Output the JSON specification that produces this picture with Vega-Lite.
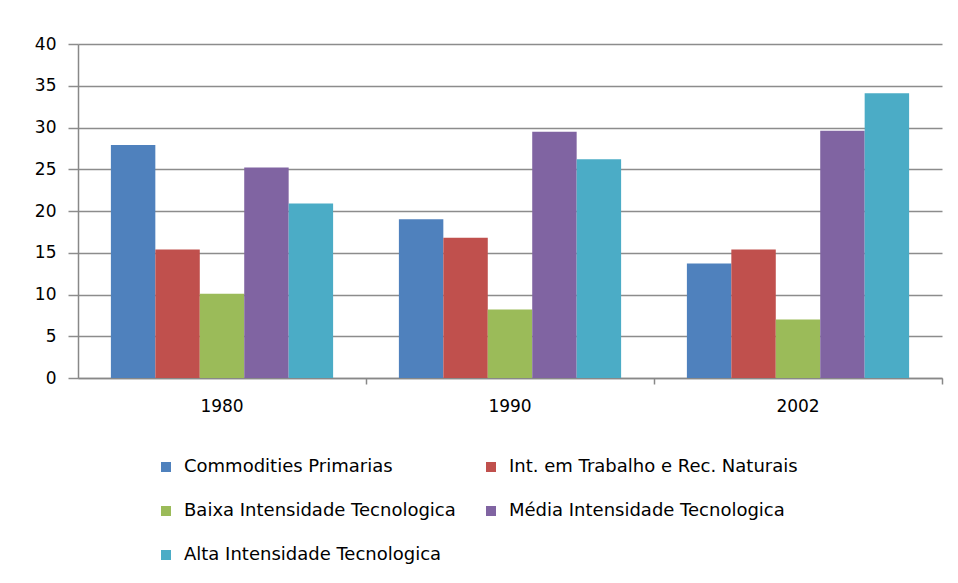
{
  "$schema": "https://vega.github.io/schema/vega-lite/v6.json",
  "autosize": {"type": "none"},
  "width": 864,
  "height": 334,
  "padding": {"left": 78, "top": 44, "right": 16, "bottom": 205},
  "background": "white",
  "config": {"view": {"stroke": null}, "font": "DejaVu Sans"},
  "data": {"values": [
    {"ano": "1980", "serie": "Commodities Primarias", "valor": 27.9},
    {"ano": "1980", "serie": "Int. em Trabalho e Rec. Naturais", "valor": 15.4},
    {"ano": "1980", "serie": "Baixa Intensidade Tecnologica", "valor": 10.1},
    {"ano": "1980", "serie": "Média Intensidade Tecnologica", "valor": 25.2},
    {"ano": "1980", "serie": "Alta Intensidade Tecnologica", "valor": 20.9},
    {"ano": "1990", "serie": "Commodities Primarias", "valor": 19.0},
    {"ano": "1990", "serie": "Int. em Trabalho e Rec. Naturais", "valor": 16.8},
    {"ano": "1990", "serie": "Baixa Intensidade Tecnologica", "valor": 8.2},
    {"ano": "1990", "serie": "Média Intensidade Tecnologica", "valor": 29.5},
    {"ano": "1990", "serie": "Alta Intensidade Tecnologica", "valor": 26.2},
    {"ano": "2002", "serie": "Commodities Primarias", "valor": 13.7},
    {"ano": "2002", "serie": "Int. em Trabalho e Rec. Naturais", "valor": 15.4},
    {"ano": "2002", "serie": "Baixa Intensidade Tecnologica", "valor": 7.0},
    {"ano": "2002", "serie": "Média Intensidade Tecnologica", "valor": 29.6},
    {"ano": "2002", "serie": "Alta Intensidade Tecnologica", "valor": 34.1}
  ]},
  "mark": {"type": "bar"},
  "encoding": {
    "x": {
      "field": "ano", "type": "nominal",
      "scale": {"paddingInner": 0, "paddingOuter": 0},
      "axis": {"title": null, "labelAngle": 0, "labelFontSize": 17, "labelColor": "#000", "labelPadding": 14,
               "domainColor": "#888", "domainWidth": 1.5, "tickColor": "#888", "tickWidth": 1.5, "tickSize": 6,
               "bandPosition": 1, "grid": false}
    },
    "xOffset": {
      "field": "serie", "type": "nominal",
      "sort": ["Commodities Primarias", "Int. em Trabalho e Rec. Naturais", "Baixa Intensidade Tecnologica", "Média Intensidade Tecnologica", "Alta Intensidade Tecnologica"],
      "scale": {"paddingInner": 0, "paddingOuter": 0.74}
    },
    "y": {
      "field": "valor", "type": "quantitative",
      "scale": {"domain": [0, 40], "nice": false},
      "axis": {"title": null, "values": [0, 5, 10, 15, 20, 25, 30, 35, 40], "labelFontSize": 17, "labelColor": "#000",
               "labelPadding": 12, "gridColor": "#8c8c8c", "gridWidth": 1.5, "domainColor": "#888", "domainWidth": 1.5,
               "tickColor": "#8c8c8c", "tickWidth": 1.5, "tickSize": 10}
    },
    "color": {
      "field": "serie", "type": "nominal",
      "sort": ["Commodities Primarias", "Int. em Trabalho e Rec. Naturais", "Baixa Intensidade Tecnologica", "Média Intensidade Tecnologica", "Alta Intensidade Tecnologica"],
      "scale": {"range": ["#4F81BD", "#C0504D", "#9BBB59", "#8064A2", "#4BACC6"]},
      "legend": {"title": null, "orient": "none", "legendX": 79, "legendY": 414, "columns": 2, "direction": "horizontal",
                 "columnPadding": 26, "rowPadding": 26, "symbolType": "square", "symbolSize": 100,
                 "symbolStrokeWidth": 0, "labelFontSize": 18, "labelLimit": 0, "labelColor": "#000", "labelOffset": 9}
    }
  }
}
